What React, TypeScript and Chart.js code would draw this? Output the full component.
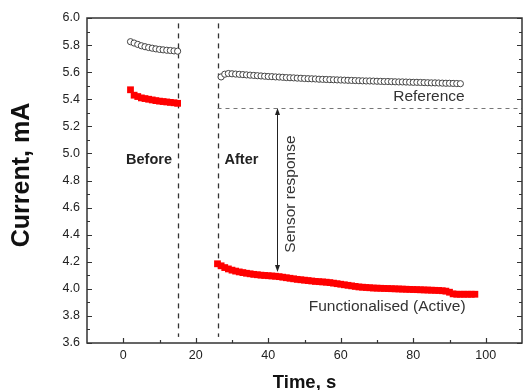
import React, { useEffect, useRef } from "react";
import { Chart, registerables } from "chart.js";

Chart.register(...registerables);

// ---- data ----
const refBeforeX = [2, 3, 4, 5, 6, 7, 8, 9, 10, 11, 12, 13, 14, 15];
const refBeforeY = [5.825, 5.815, 5.805, 5.795, 5.788, 5.782, 5.777, 5.772, 5.768, 5.765, 5.762, 5.76, 5.757, 5.755];

const actBeforeX = [2, 3, 4, 5, 6, 7, 8, 9, 10, 11, 12, 13, 14, 15];
const actBeforeY = [5.47, 5.43, 5.42, 5.41, 5.405, 5.4, 5.395, 5.39, 5.386, 5.383, 5.38, 5.377, 5.374, 5.37];

const refAfterX = [
  27, 28, 29, 30, 31, 32, 33, 34, 35, 36, 37, 38, 39, 40, 41, 42, 43, 44, 45, 46, 47, 48, 49, 50,
  51, 52, 53, 54, 55, 56, 57, 58, 59, 60, 61, 62, 63, 64, 65, 66, 67, 68, 69, 70, 71, 72, 73, 74,
  75, 76, 77, 78, 79, 80, 81, 82, 83, 84, 85, 86, 87, 88, 89, 90, 91, 92, 93,
];
const refAfterY = [
  5.565, 5.585, 5.59, 5.588, 5.586, 5.584, 5.582, 5.58, 5.578, 5.576, 5.574, 5.572, 5.57, 5.568,
  5.567, 5.565, 5.564, 5.562, 5.56, 5.559, 5.558, 5.556, 5.555, 5.553, 5.552, 5.551, 5.55, 5.548,
  5.547, 5.546, 5.545, 5.544, 5.543, 5.542, 5.541, 5.54, 5.539, 5.538, 5.537, 5.536, 5.535, 5.535,
  5.534, 5.533, 5.532, 5.531, 5.531, 5.53, 5.529, 5.528, 5.528, 5.527, 5.526, 5.525, 5.525, 5.524,
  5.523, 5.522, 5.521, 5.521, 5.52, 5.519, 5.518, 5.518, 5.517, 5.516, 5.515,
];

const actAfterX = [
  26, 27, 28, 29, 30, 31, 32, 33, 34, 35, 36, 37, 38, 39, 40, 41, 42, 43, 44, 45, 46, 47, 48, 49,
  50, 51, 52, 53, 54, 55, 56, 57, 58, 59, 60, 61, 62, 63, 64, 65, 66, 67, 68, 69, 70, 71, 72, 73,
  74, 75, 76, 77, 78, 79, 80, 81, 82, 83, 84, 85, 86, 87, 88, 89, 90, 91, 92, 93, 94, 95, 96, 97,
];
const actAfterY = [
  4.185, 4.17, 4.157, 4.147, 4.138, 4.131, 4.125, 4.12, 4.115, 4.111, 4.107, 4.104, 4.101, 4.099,
  4.097, 4.095, 4.093, 4.09, 4.086, 4.082, 4.078, 4.074, 4.07, 4.067, 4.064, 4.061, 4.058, 4.055,
  4.053, 4.051, 4.049, 4.046, 4.042, 4.038, 4.034, 4.03, 4.026, 4.022, 4.018, 4.014, 4.012, 4.01,
  4.008, 4.006, 4.005, 4.004, 4.003, 4.002, 4.001, 4.0, 3.999, 3.998, 3.997, 3.996, 3.995, 3.994,
  3.993, 3.992, 3.991, 3.99, 3.989, 3.988, 3.986, 3.983, 3.975, 3.963, 3.96, 3.96, 3.96, 3.96,
  3.96, 3.96,
];

const xMajorTicks = [0, 20, 40, 60, 80, 100];
const xMinorTicks = [10, 30, 50, 70, 90];
const yMajorTicks = [3.6, 3.8, 4.0, 4.2, 4.4, 4.6, 4.8, 5.0, 5.2, 5.4, 5.6, 5.8, 6.0];
const yMinorTicks = [3.7, 3.9, 4.1, 4.3, 4.5, 4.7, 4.9, 5.1, 5.3, 5.5, 5.7, 5.9];

const dividerTimes = [15, 26];
const referenceLevel = 5.335;
const arrowTime = 42.3;
const arrowBottom = 4.124;

const FONT = "'Liberation Sans', Arial, Helvetica, sans-serif";

const toPts = (xs: number[], ys: number[]) => xs.map((x, i) => ({ x, y: ys[i] }));

const decorPlugin = {
  id: "decor",
  beforeDatasetsDraw(chart: any) {
    const { ctx, chartArea: a, scales } = chart;
    const xs = scales.x;
    const ys = scales.y;
    ctx.save();
    // vertical dashed dividers
    ctx.strokeStyle = "#333";
    ctx.lineWidth = 1.3;
    ctx.setLineDash([5, 5]);
    dividerTimes.forEach((t) => {
      const px = Math.round(xs.getPixelForValue(t)) + 0.5;
      ctx.beginPath();
      ctx.moveTo(px, ys.getPixelForValue(5.96));
      ctx.lineTo(px, ys.getPixelForValue(3.645));
      ctx.stroke();
    });
    // horizontal dashed reference level
    ctx.strokeStyle = "#777";
    ctx.lineWidth = 1;
    ctx.setLineDash([4, 4]);
    const hy = Math.round(ys.getPixelForValue(referenceLevel)) + 0.5;
    ctx.beginPath();
    ctx.moveTo(xs.getPixelForValue(26), hy);
    ctx.lineTo(a.right, hy);
    ctx.stroke();
    ctx.setLineDash([]);
    // double arrow
    const ax = Math.round(xs.getPixelForValue(arrowTime)) + 0.5;
    const ay1 = ys.getPixelForValue(referenceLevel);
    const ay2 = ys.getPixelForValue(arrowBottom);
    ctx.strokeStyle = "#222";
    ctx.fillStyle = "#222";
    ctx.lineWidth = 1;
    ctx.beginPath();
    ctx.moveTo(ax, ay1 + 3);
    ctx.lineTo(ax, ay2 - 3);
    ctx.stroke();
    ctx.beginPath();
    ctx.moveTo(ax, ay1);
    ctx.lineTo(ax - 2.5, ay1 + 7);
    ctx.lineTo(ax + 2.5, ay1 + 7);
    ctx.closePath();
    ctx.fill();
    ctx.beginPath();
    ctx.moveTo(ax, ay2);
    ctx.lineTo(ax - 2.5, ay2 - 7);
    ctx.lineTo(ax + 2.5, ay2 - 7);
    ctx.closePath();
    ctx.fill();
    ctx.restore();
  },
  afterDatasetsDraw(chart: any) {
    const { ctx, chartArea: a, scales } = chart;
    const xs = scales.x;
    const ys = scales.y;
    ctx.save();
    // frame
    ctx.strokeStyle = "#333";
    ctx.lineWidth = 1.5;
    ctx.strokeRect(a.left, a.top, a.right - a.left, a.bottom - a.top);
    // ticks (inward)
    ctx.lineWidth = 1.2;
    const yTick = (v: number, len: number) => {
      const py = Math.round(ys.getPixelForValue(v)) + 0.5;
      ctx.beginPath();
      ctx.moveTo(a.left, py);
      ctx.lineTo(a.left + len, py);
      ctx.moveTo(a.right, py);
      ctx.lineTo(a.right - len, py);
      ctx.stroke();
    };
    yMajorTicks.forEach((v) => yTick(v, 5));
    yMinorTicks.forEach((v) => yTick(v, 3));
    const xTick = (v: number, len: number) => {
      const px = Math.round(xs.getPixelForValue(v)) + 0.5;
      ctx.beginPath();
      ctx.moveTo(px, a.bottom);
      ctx.lineTo(px, a.bottom - len);
      ctx.stroke();
    };
    xMajorTicks.forEach((v) => xTick(v, 5));
    xMinorTicks.forEach((v) => xTick(v, 3));

    // text annotations
    ctx.fillStyle = "#222";
    ctx.textBaseline = "middle";
    ctx.textAlign = "center";
    ctx.font = `bold 14.5px ${FONT}`;
    ctx.fillText("Before", xs.getPixelForValue(7.1), ys.getPixelForValue(4.951));
    ctx.fillText("After", xs.getPixelForValue(32.6), ys.getPixelForValue(4.951));
    ctx.font = `15.5px ${FONT}`;
    ctx.fillStyle = "#333";
    ctx.textAlign = "right";
    ctx.fillText("Reference", xs.getPixelForValue(94.2), ys.getPixelForValue(5.417));
    ctx.textAlign = "center";
    ctx.fillText("Functionalised (Active)", xs.getPixelForValue(72.8), ys.getPixelForValue(3.866));
    ctx.save();
    ctx.translate(xs.getPixelForValue(46.2), ys.getPixelForValue(4.7));
    ctx.rotate(-Math.PI / 2);
    ctx.fillText("Sensor response", 0, 0);
    ctx.restore();

    // axis titles
    ctx.fillStyle = "#111";
    ctx.font = `bold 18.5px ${FONT}`;
    ctx.textAlign = "center";
    ctx.fillText("Time, s", (a.left + a.right) / 2, 383);
    ctx.save();
    ctx.translate(22, 175);
    ctx.rotate(-Math.PI / 2);
    ctx.font = `bold 25px ${FONT}`;
    ctx.fillText("Current, mA", 0, 0);
    ctx.restore();
    ctx.restore();
  },
};

export default function App() {
  const canvasRef = useRef<HTMLCanvasElement | null>(null);

  useEffect(() => {
    document.body.style.margin = "0";
    const canvas = canvasRef.current;
    if (!canvas) return;
    const chart = new Chart(canvas, {
      type: "scatter",
      data: {
        datasets: [
          {
            label: "Reference (before)",
            data: toPts(refBeforeX, refBeforeY),
            pointStyle: "circle",
            pointRadius: 3.1,
            borderWidth: 1,
            borderColor: "#444",
            backgroundColor: "#ffffff",
          },
          {
            label: "Reference (after)",
            data: toPts(refAfterX, refAfterY),
            pointStyle: "circle",
            pointRadius: 3.1,
            borderWidth: 1,
            borderColor: "#444",
            backgroundColor: "#ffffff",
          },
          {
            label: "Active (before)",
            data: toPts(actBeforeX, actBeforeY),
            pointStyle: "rect",
            pointRadius: 4.8,
            borderWidth: 0,
            borderColor: "#ff0000",
            backgroundColor: "#ff0000",
          },
          {
            label: "Active (after)",
            data: toPts(actAfterX, actAfterY),
            pointStyle: "rect",
            pointRadius: 4.8,
            borderWidth: 0,
            borderColor: "#ff0000",
            backgroundColor: "#ff0000",
          },
        ],
      },
      options: {
        responsive: false,
        animation: false,
        events: [],
        layout: { autoPadding: false, padding: { top: 18, right: 1, left: 0, bottom: 0 } },
        plugins: { legend: { display: false }, tooltip: { enabled: false } },
        scales: {
          x: {
            type: "linear",
            min: -10,
            max: 110,
            grid: { display: false, drawTicks: false },
            border: { display: false },
            afterFit: (s: any) => {
              s.height = 47;
              s.paddingLeft = 0;
              s.paddingRight = 0;
            },
            ticks: {
              stepSize: 10,
              padding: 5,
              autoSkip: false,
              maxRotation: 0,
              color: "#222",
              font: { family: FONT, size: 12.5 },
              callback: (v: any) => (xMajorTicks.includes(Number(v)) ? String(v) : ""),
            },
          },
          y: {
            type: "linear",
            min: 3.6,
            max: 6.0,
            grid: { display: false, drawTicks: false },
            border: { display: false },
            afterFit: (s: any) => {
              s.width = 87;
              s.paddingTop = 0;
              s.paddingBottom = 0;
            },
            ticks: {
              stepSize: 0.2,
              padding: 7,
              autoSkip: false,
              color: "#222",
              font: { family: FONT, size: 12.5 },
              callback: (v: any) => Number(v).toFixed(1),
            },
          },
        },
      },
      plugins: [decorPlugin],
    });
    return () => chart.destroy();
  }, []);

  return (
    <div style={{ width: 523, height: 390 }}>
      <canvas ref={canvasRef} width={523} height={390} style={{ display: "block" }} />
    </div>
  );
}
